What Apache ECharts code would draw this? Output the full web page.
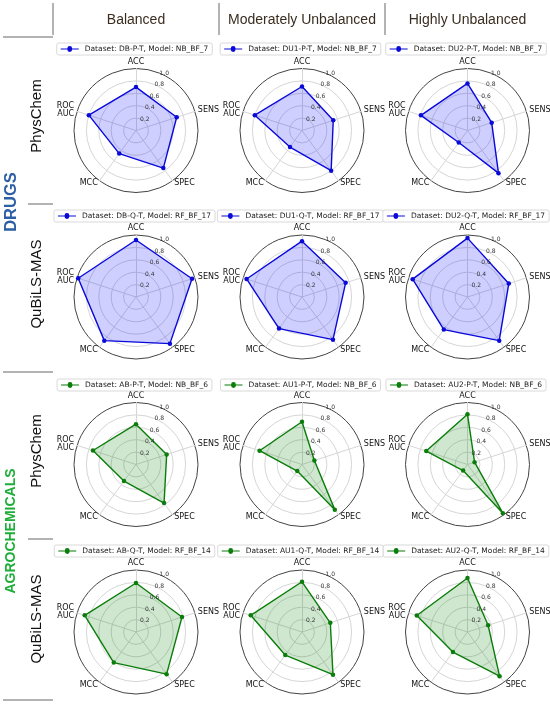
<!DOCTYPE html>
<html>
<head>
<meta charset="utf-8">
<script src="https://cdn.jsdelivr.net/npm/echarts@6/dist/echarts.min.js"></script>
<style>
  html, body { margin: 0; padding: 0; background: #fff; }
  #main { width: 550px; height: 705px; }
</style>
</head>
<body>
<div id="main"></div>
<script>
// metric names, in the order the values are listed
var metrics = ['ACC', 'SENS', 'SPEC', 'MCC', 'ROC\nAUC'];
// order used on the radar (echarts lays indicators out counter-clockwise)
var drawOrder = [0, 4, 3, 2, 1];

var colHeads = ['Balanced', 'Moderately Unbalanced', 'Highly Unbalanced'];
var rowHeads = ['PhysChem', 'QuBiLS-MAS', 'PhysChem', 'QuBiLS-MAS'];
var groupHeads = ['DRUGS', 'AGROCHEMICALS'];

var datasets = [
    ['DB-P-T', 'DU1-P-T', 'DU2-P-T'],
    ['DB-Q-T', 'DU1-Q-T', 'DU2-Q-T'],
    ['AB-P-T', 'AU1-P-T', 'AU2-P-T'],
    ['AB-Q-T', 'AU1-Q-T', 'AU2-Q-T']
];
var models = ['NB_BF_7', 'RF_BF_17', 'NB_BF_6', 'RF_BF_14'];

// values: ACC, SENS, SPEC, MCC, ROC AUC
var drugsPhys = [
    [0.70, 0.69, 0.75, 0.46, 0.80],
    [0.71, 0.53, 0.80, 0.33, 0.80],
    [0.76, 0.41, 0.85, 0.24, 0.79]
];
var drugsQub = [
    [0.92, 0.95, 0.93, 0.87, 0.98],
    [0.90, 0.74, 0.85, 0.63, 0.94],
    [0.95, 0.70, 0.87, 0.65, 0.93]
];
var agroPhys = [
    [0.65, 0.52, 0.77, 0.33, 0.73],
    [0.69, 0.21, 0.90, 0.13, 0.72],
    [0.81, 0.12, 0.97, 0.12, 0.70]
];
var agroQub = [
    [0.79, 0.78, 0.84, 0.61, 0.87],
    [0.81, 0.48, 0.85, 0.46, 0.87],
    [0.87, 0.35, 0.88, 0.40, 0.86]
];
var rowValues = [drugsPhys, drugsQub, agroPhys, agroQub];
var rTicks = [0.2, 0.4, 0.6, 0.8, 1.0];

var colX = [136, 302, 467.5];
var rowY = [130.5, 297, 464.5, 632];
var legendY = [43, 210, 379, 545];
var R = 62;

var lineColors = ['#0a0ad8', '#0a0ad8', '#0b7d0b', '#0b7d0b'];
var fillColors = ['rgba(0,0,255,0.27)', 'rgba(0,0,255,0.27)', 'rgba(0,128,0,0.27)', 'rgba(0,128,0,0.27)'];

var legendIcon = 'path://M0,4H11A4,4 0 0 1 19,4H30V6H19A4,4 0 0 1 11,6H0Z';
var legendFont = '7.5px "DejaVu Sans"';

var cv = document.createElement('canvas').getContext('2d');
function textWidth(s, font) {
    cv.font = font;
    return cv.measureText(s).width;
}

var chart = echarts.init(document.getElementById('main'));

var radars = [], polars = [], angleAxes = [], radiusAxes = [], legends = [], series = [];

rowValues.forEach(function (rows, r) {
    rows.forEach(function (vals, c) {
        var idx = r * 3 + c;
        var name = 'Dataset: ' + datasets[r][c] + ', Model: ' + models[r];
        radars.push({
            center: [colX[c], rowY[r]],
            radius: R,
            startAngle: 90,
            shape: 'circle',
            splitNumber: 5,
            nameGap: 3,
            indicator: drawOrder.map(function (k) { return { name: metrics[k], min: 0, max: 1 }; }),
            axisName: { color: '#111', fontSize: 8, fontFamily: 'DejaVu Sans', lineHeight: 8 },
            splitLine: { lineStyle: { color: ['#d6d6d6', '#d6d6d6', '#d6d6d6', '#d6d6d6', '#d6d6d6', '#444'], width: 1 } },
            splitArea: { show: false },
            axisLine: { lineStyle: { color: '#d6d6d6' } },
            axisTick: { show: false },
            axisLabel: { show: false }
        });
        polars.push({ center: [colX[c], rowY[r]], radius: R });
        angleAxes.push({ polarIndex: idx, type: 'value', min: 0, max: 360, startAngle: 67, show: false });
        radiusAxes.push({
            polarIndex: idx, type: 'value', min: 0, max: 1, interval: 0.2, z: 5,
            axisLine: { show: false }, axisTick: { show: false }, splitLine: { show: false },
            axisLabel: {
                fontSize: 6, color: '#333', fontFamily: 'DejaVu Sans', margin: 0,
                align: 'center', verticalAlign: 'middle', padding: [0, 0, 6, 8],
                formatter: function (v) { return rTicks.indexOf(+v.toFixed(1)) >= 0 ? v.toFixed(1) : ''; }
            }
        });
        var w = 22 + 5 + textWidth(name, legendFont) + 8;
        legends.push({
            data: [name],
            left: colX[c] - w / 2,
            top: legendY[r],
            orient: 'horizontal',
            icon: legendIcon,
            itemWidth: 22,
            itemHeight: 6,
            padding: [2, 4, 2, 4],
            borderColor: '#cfcfcf',
            borderWidth: 0.8,
            borderRadius: 2,
            backgroundColor: '#fff',
            selectedMode: false,
            textStyle: { fontSize: 7.5, fontFamily: 'DejaVu Sans', color: '#222', padding: [0, 0, 0, -1] }
        });
        series.push({
            type: 'radar',
            radarIndex: idx,
            symbol: 'circle',
            symbolSize: 4.5,
            itemStyle: { color: lineColors[r] },
            lineStyle: { color: lineColors[r], width: 1.4 },
            areaStyle: { color: fillColors[r] },
            data: [{ name: name, value: drawOrder.map(function (k) { return vals[k]; }) }]
        });
    });
});

var lineStyle = { stroke: '#666', lineWidth: 1 };
function hline(x1, x2, y) { return { type: 'line', shape: { x1: x1, y1: y, x2: x2, y2: y }, style: lineStyle }; }
function vline(x, y1, y2) { return { type: 'line', shape: { x1: x, y1: y1, x2: x, y2: y2 }, style: lineStyle }; }

var graphics = [
    hline(3, 53, 37), vline(53, 3, 35), vline(219, 3, 35), vline(385, 3, 35),
    hline(28, 53, 204), hline(3, 53, 372), hline(28, 53, 539), hline(3, 53, 700)
];
colHeads.forEach(function (t, c) {
    graphics.push({
        type: 'text', x: colX[c], y: 20,
        style: { text: t, fill: '#3a2d20', font: '14px "Liberation Sans"', textAlign: 'center', textVerticalAlign: 'middle' }
    });
});
var rowLabelY = [116, 284, 451, 619];
rowHeads.forEach(function (t, r) {
    graphics.push({
        type: 'text', x: 36.5, y: rowLabelY[r], rotation: Math.PI / 2,
        style: { text: t, fill: '#111', font: '15px "Liberation Sans"', textAlign: 'center', textVerticalAlign: 'middle' }
    });
});
var groupY = [202, 531];
var groupFonts = ['bold 16.5px "Liberation Sans"', 'bold 14px "Liberation Sans"'];
var groupColors = ['#2d5fa5', '#1fae3a'];
groupHeads.forEach(function (t, g) {
    graphics.push({
        type: 'text', x: 11.5, y: groupY[g], rotation: Math.PI / 2,
        style: { text: t, fill: groupColors[g], font: groupFonts[g], textAlign: 'center', textVerticalAlign: 'middle' }
    });
});

chart.setOption({
    backgroundColor: '#fff',
    animation: false,
    radar: radars,
    polar: polars,
    angleAxis: angleAxes,
    radiusAxis: radiusAxes,
    legend: legends,
    series: series,
    graphic: graphics
});
</script>
</body>
</html>
